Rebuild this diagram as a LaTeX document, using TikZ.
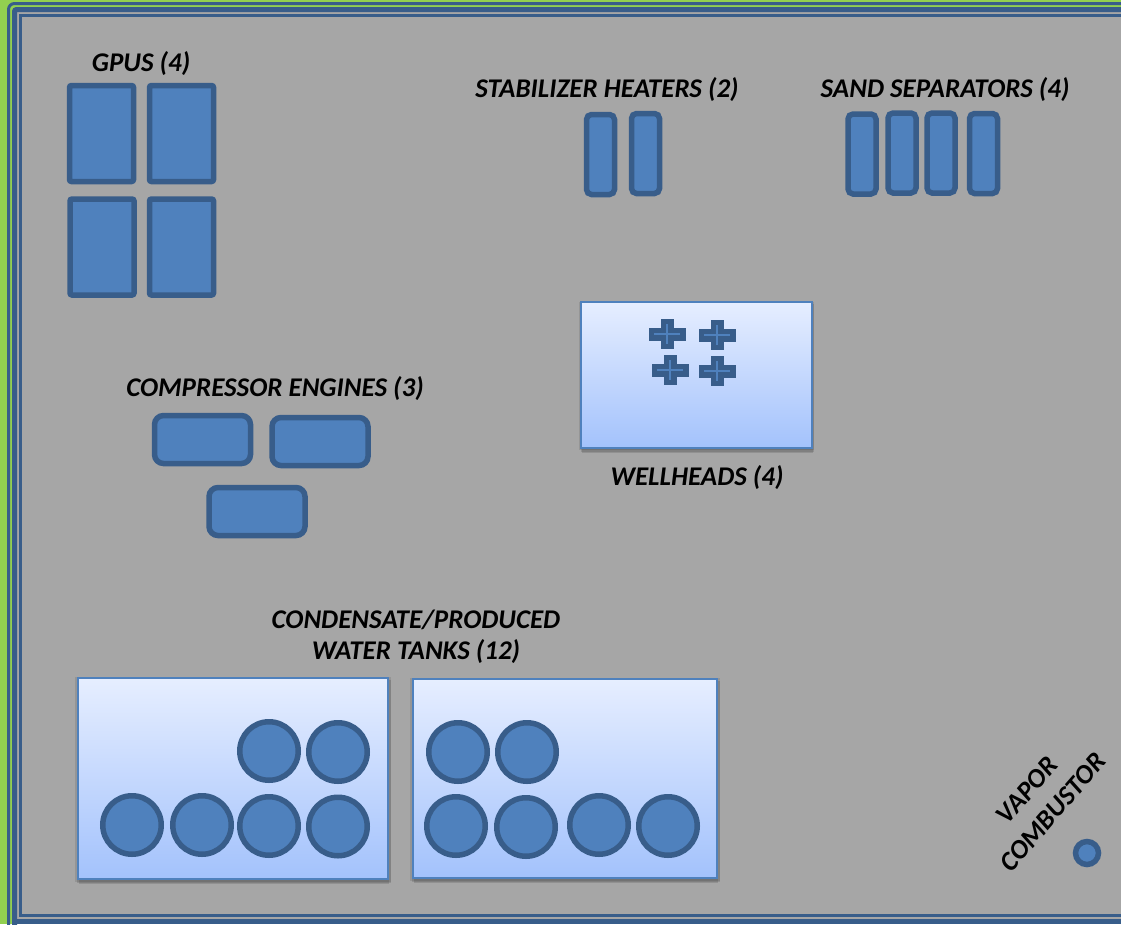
\documentclass[tikz,border=0pt]{standalone}
\usepackage{fontspec}
\setmainfont{Carlito}
\usetikzlibrary{shadows}
\definecolor{sitegreen}{HTML}{92D050}
\definecolor{sitegray}{HTML}{A6A6A6}
\definecolor{unitfill}{HTML}{4F81BD}
\definecolor{unitline}{HTML}{385D8A}
\definecolor{padtop}{HTML}{E6EEFF}
\definecolor{padbot}{HTML}{A3C2FC}
\tikzset{
  unitbox/.style={draw=unitline,fill=unitfill,line width=5.5pt,rounded corners=2pt,inner sep=0pt},
  gpubox/.style={unitbox,minimum width=64pt,minimum height=96pt},
  slimbox/.style={unitbox,rounded corners=5pt,minimum width=28pt,minimum height=80pt},
  enginebox/.style={unitbox,rounded corners=9pt,minimum width=96pt,minimum height=48pt},
  tankunit/.style={draw=unitline,fill=unitfill,line width=5.5pt,circle,inner sep=0pt,minimum size=58.5pt},
  padbox/.style={draw=unitfill,line width=2.5pt,top color=padtop,bottom color=padbot,inner sep=0pt,
    drop shadow={shadow xshift=0pt,shadow yshift=-1pt,shadow scale=1.02,fill=black,opacity=.1},
    drop shadow={shadow xshift=1pt,shadow yshift=-3pt,shadow scale=1.01,fill=black,opacity=.12},
    drop shadow={shadow xshift=1pt,shadow yshift=-5pt,fill=black,opacity=.12}},
  lbl/.style={font=\fontsize{27pt}{27pt}\selectfont\bfseries\itshape,inner sep=0pt,align=center,text=black},
  wellcross/.pic={
    \fill[unitline] (-18.5,-6.5) rectangle (18.5,6.5);
    \fill[unitline] (-6.5,-15) rectangle (6.5,15);
    \draw[unitfill,line width=2pt] (-13,0) -- (13,0) (0,-10) -- (0,10);
  }
}
\begin{document}
\begin{tikzpicture}[x=1pt,y=-1pt]
\useasboundingbox (0,0) rectangle (1121,924);
% site frame
\fill[sitegreen] (0,0) rectangle (1121,924);
\draw[unitline,line width=3pt,rounded corners=6pt] (1121,3.5) -- (8.5,3.5) -- (8.5,930);
\fill[sitegray] (14.5,9.5) rectangle (1121,921.5);
\draw[unitline,line width=5pt,rounded corners=2pt] (1125,9.5) -- (14.5,9.5) -- (14.5,930);
\draw[unitline,line width=5pt] (12,921.5) -- (1125,921.5);
\draw[unitline,line width=3pt] (1121,15.5) -- (20.5,15.5) -- (20.5,915.5) -- (1121,915.5);
% gpus
\node[gpubox] (gpu1) at (101.5,133.5) {};
\node[gpubox] (gpu2) at (181.5,133.5) {};
\node[gpubox] (gpu3) at (102,247) {};
\node[gpubox] (gpu4) at (181.5,247) {};
\node[lbl] (gpulabel) at (141,64) {GPUS (4)};
% heaters and separators
\node[slimbox] (heater1) at (600.5,154.5) {};
\node[slimbox] (heater2) at (645.5,153.5) {};
\node[lbl] (heaterlabel) at (607,90) {STABILIZER HEATERS (2)};
\node[slimbox] (sand1) at (862,154) {};
\node[slimbox] (sand2) at (902,153) {};
\node[slimbox] (sand3) at (941,153) {};
\node[slimbox] (sand4) at (983.5,153.5) {};
\node[lbl] (sandlabel) at (945,90) {SAND SEPARATORS (4)};
% engines
\node[enginebox] (engine1) at (202.5,439.5) {};
\node[enginebox] (engine2) at (320,441.5) {};
\node[enginebox] (engine3) at (257,511.5) {};
\node[lbl] (enginelabel) at (275,389) {COMPRESSOR ENGINES (3)};
% wellheads
\node[padbox,minimum width=231pt,minimum height=146pt] (wellpad) at (696.5,375) {};
\pic at (667,334) {wellcross};
\pic at (717,335) {wellcross};
\pic at (670,370) {wellcross};
\pic at (717,371) {wellcross};
\node[lbl] (welllabel) at (697,478) {WELLHEADS (4)};
% tanks
\node[padbox,minimum width=310pt,minimum height=201pt] (tankpad1) at (233,778.5) {};
\node[padbox,minimum width=304pt,minimum height=199pt] (tankpad2) at (565,778.5) {};
\node[tankunit] (tank1) at (269,751) {};
\node[tankunit] (tank2) at (338,752) {};
\node[tankunit] (tank3) at (132,825) {};
\node[tankunit] (tank4) at (202,825) {};
\node[tankunit] (tank5) at (269,826) {};
\node[tankunit] (tank6) at (338,826.5) {};
\node[tankunit] (tank7) at (458,752) {};
\node[tankunit] (tank8) at (527,752) {};
\node[tankunit] (tank9) at (456,826) {};
\node[tankunit] (tank10) at (526,827) {};
\node[tankunit] (tank11) at (599,825) {};
\node[tankunit] (tank12) at (668,826) {};
\node[lbl] (tanklabel1) at (416,620) {CONDENSATE/PRODUCED};
\node[lbl] (tanklabel2) at (416,652) {WATER TANKS (12)};
% combustor
\node[tankunit,minimum size=23pt] (combustor) at (1087,853) {};
\node[lbl,rotate=49] (vaporlabel) at (1027,790) {VAPOR};
\node[lbl,rotate=49] (combustorlabel) at (1053,812) {COMBUSTOR};
\end{tikzpicture}
\end{document}
